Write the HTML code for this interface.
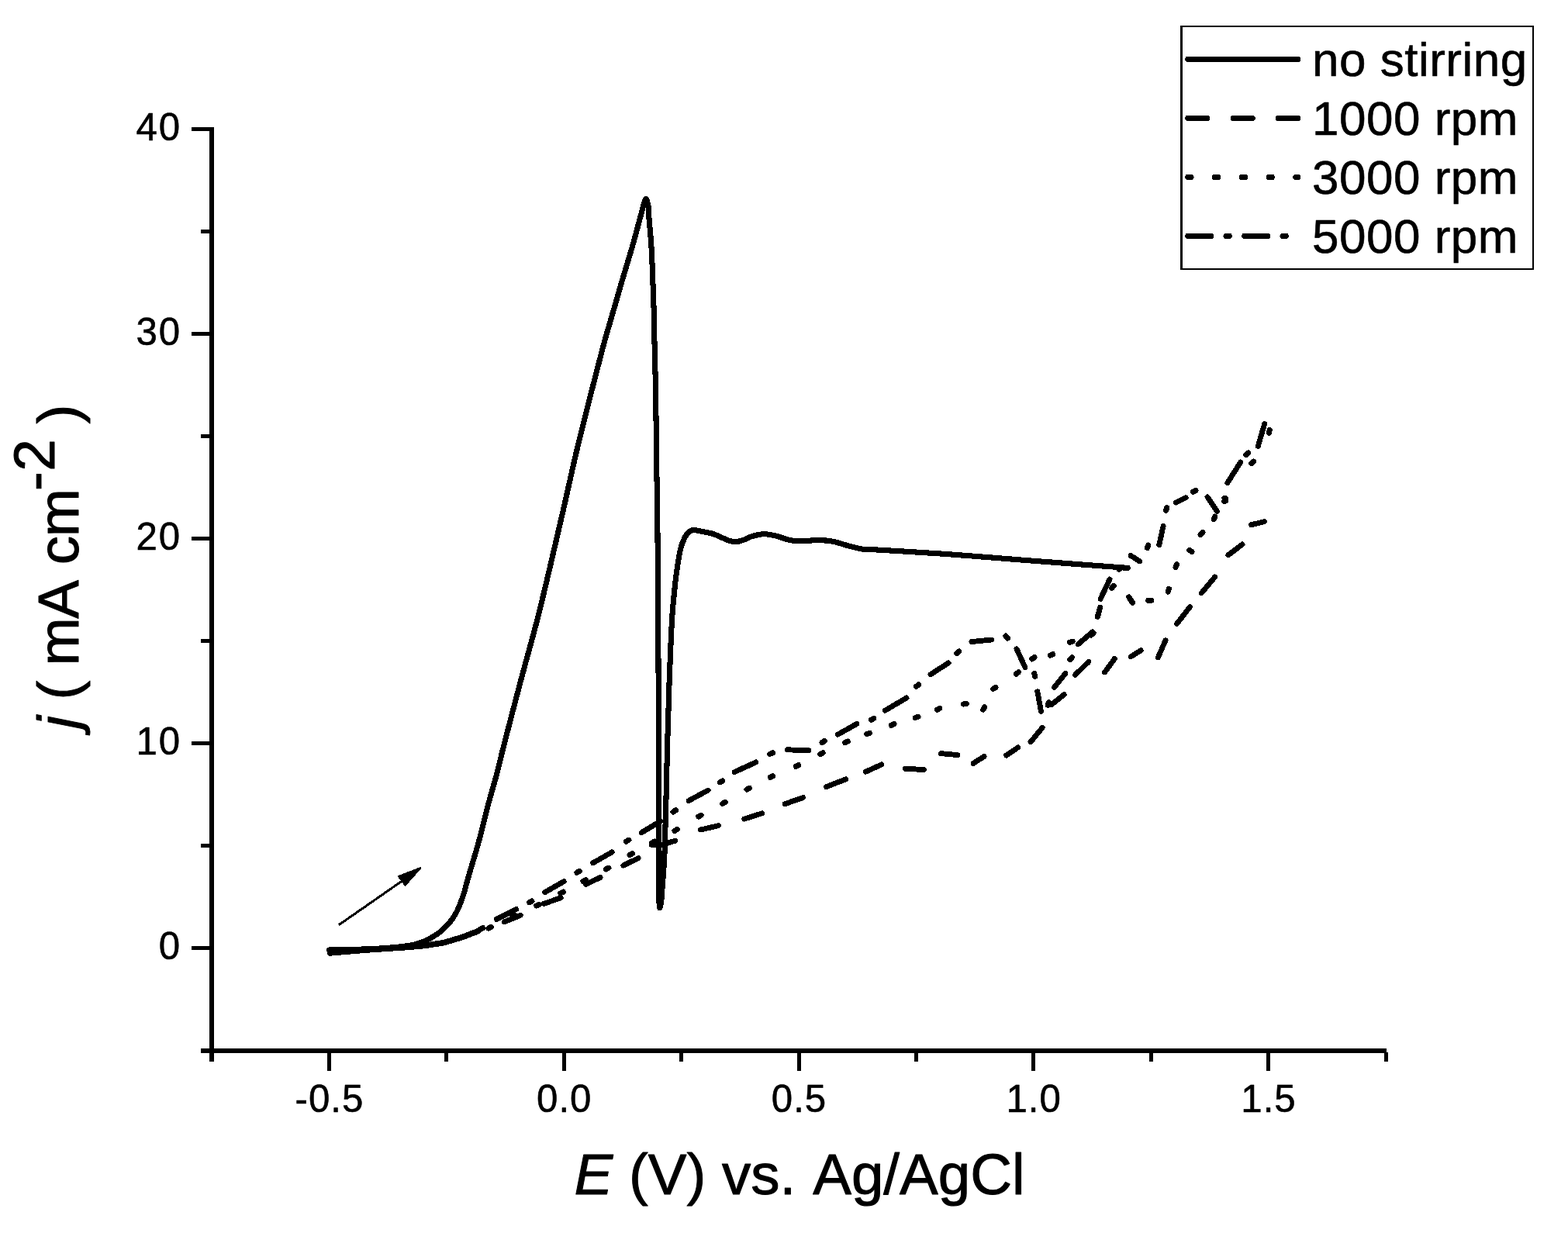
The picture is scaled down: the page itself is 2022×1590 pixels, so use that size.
<!DOCTYPE html>
<html lang="en"><head><meta charset="utf-8"><title>Cyclic voltammogram</title>
<style>
html,body{margin:0;padding:0;background:#fff;}
body{width:2022px;height:1590px;overflow:hidden;}
svg{display:block;}
text{font-family:"Liberation Sans",Arial,Helvetica,sans-serif;fill:#000;stroke:#000;stroke-linejoin:round;}
.tick{font-size:49.2px;stroke-width:0.6px;letter-spacing:1px;}
.ttl{font-size:74.5px;stroke-width:1px;}
.leg{font-size:62px;stroke-width:0.6px;letter-spacing:0.5px;}
.ax{stroke:#000;stroke-width:5.20;fill:none;stroke-linecap:butt;}
.cv{stroke:#000;stroke-width:7.1;fill:none;stroke-linecap:round;stroke-linejoin:round;}
.lg{stroke:#000;stroke-width:7.3;fill:none;stroke-linecap:round;}
.bd{stroke:#000;stroke-width:7.6;fill:none;stroke-linecap:round;stroke-linejoin:round;}
.ds{stroke:#000;stroke-width:6.9;fill:none;stroke-linecap:round;stroke-linejoin:round;}
.dt{stroke:#000;stroke-width:7.1;fill:none;stroke-linecap:round;}
</style></head><body>
<svg width="2022" height="1590" viewBox="0 0 2022 1590" shape-rendering="crispEdges">
<rect x="0" y="0" width="2022" height="1590" fill="#fff"/>
<g fill="#000" stroke="none">
<rect x="270" y="164" width="6" height="1205"/>
<rect x="259" y="1352" width="1529" height="6"/>
<rect x="247" y="164" width="24" height="5"/>
<rect x="247" y="428" width="24" height="5"/>
<rect x="247" y="692" width="24" height="5"/>
<rect x="247" y="956" width="24" height="5"/>
<rect x="247" y="1220" width="24" height="5"/>
<rect x="259" y="296" width="12" height="5"/>
<rect x="259" y="560" width="12" height="5"/>
<rect x="259" y="824" width="12" height="5"/>
<rect x="259" y="1088" width="12" height="5"/>
<rect x="422" y="1357" width="5" height="24"/>
<rect x="725" y="1357" width="5" height="24"/>
<rect x="1028" y="1357" width="5" height="24"/>
<rect x="1330" y="1357" width="5" height="24"/>
<rect x="1633" y="1357" width="5" height="24"/>
<rect x="573" y="1357" width="5" height="12"/>
<rect x="876" y="1357" width="5" height="12"/>
<rect x="1179" y="1357" width="5" height="12"/>
<rect x="1482" y="1357" width="5" height="12"/>
<rect x="1785" y="1357" width="5" height="12"/>
</g>
<g class="tick" text-anchor="end" style="letter-spacing:1.8px">
<text x="233.9" y="181.0">40</text>
<text x="233.9" y="445.0">30</text>
<text x="233.9" y="709.0">20</text>
<text x="233.9" y="973.0">10</text>
<text x="233.9" y="1237.0">0</text>
</g>
<g class="tick" text-anchor="middle">
<text x="425.0" y="1434.0">-0.5</text>
<text x="727.8" y="1434.0">0.0</text>
<text x="1030.5" y="1434.0">0.5</text>
<text x="1333.2" y="1434.0">1.0</text>
<text x="1636.0" y="1434.0">1.5</text>
</g>
<text class="ttl" x="740.5" y="1540.3"><tspan font-style="italic">E</tspan> (V) vs. <tspan dx="5.5">Ag/AgCl</tspan></text>
<text class="ttl" transform="translate(101,939.8) rotate(-90)"><tspan font-style="italic">j</tspan> ( <tspan dx="-1.5" style="letter-spacing:-1.3px">mA</tspan> <tspan dx="0.4" style="letter-spacing:-1.2px">cm</tspan><tspan dx="-1.6" dy="-31" style="letter-spacing:0.4px">-2</tspan><tspan dx="-1.2" dy="31"> )</tspan></text>
<rect x="1523.3" y="34" width="453.5" height="313" fill="#fff" stroke="#000" stroke-width="2.6"/>
<g class="lg">
<line x1="1531.8" y1="76.5" x2="1673.4" y2="76.5"/>
<line x1="1531.8" y1="152.5" x2="1673.4" y2="152.5" stroke-dasharray="24.9 33.5"/>
<line x1="1531.8" y1="228.5" x2="1673.4" y2="228.5" stroke-dasharray="4.1 30.7"/>
<line x1="1531.8" y1="304.5" x2="1673.4" y2="304.5" stroke-dasharray="29.7 19.6 4.1 19.6"/>
</g>
<g class="leg">
<text x="1692" y="97.6">no stirring</text>
<text x="1692" y="173.6">1000 rpm</text>
<text x="1692" y="249.6">3000 rpm</text>
<text x="1692" y="325.6">5000 rpm</text>
</g>
<line x1="436.8" y1="1192.8" x2="520" y2="1135" stroke="#000" stroke-width="3"/>
<polygon points="542.6,1119.0 513.8,1130.0 522.6,1141.6" fill="#000" stroke="#000" stroke-width="2" stroke-linejoin="round"/>
<g class="cv"><path d="M424.5,1225.0 C433.6,1224.8 463.4,1224.3 479.1,1223.6 C494.8,1222.9 509.2,1221.6 518.7,1220.6 C528.2,1219.6 531.1,1218.8 536.0,1217.6 C540.9,1216.4 544.6,1214.8 548.0,1213.4 C551.4,1212.0 553.2,1210.9 556.5,1209.0 C559.8,1207.1 563.6,1205.0 567.5,1201.8 C571.4,1198.5 576.4,1193.6 579.9,1189.5 C583.4,1185.4 585.9,1181.2 588.2,1177.1 C590.5,1173.0 592.1,1168.8 593.7,1164.7 C595.4,1160.6 596.8,1156.5 598.1,1152.4 C599.4,1148.3 599.8,1145.6 601.4,1140.0 C603.0,1134.4 605.6,1125.5 607.6,1118.7 C609.6,1111.9 611.6,1105.6 613.5,1099.0 C615.4,1092.4 616.5,1089.0 619.1,1079.1 C621.7,1069.2 625.5,1052.8 629.0,1039.6 C632.5,1026.4 636.5,1013.5 640.1,1000.0 C643.7,986.5 645.3,978.4 650.5,958.3 C655.7,938.1 664.2,905.5 671.2,879.1 C678.2,852.7 686.5,823.6 692.6,800.0 C698.7,776.4 702.2,761.0 707.8,737.4 C713.4,713.8 720.1,684.7 726.2,658.3 C732.3,631.9 737.9,605.5 744.2,579.1 C750.5,552.7 758.5,521.5 764.0,500.0 C769.5,478.5 773.5,462.7 776.9,450.0 C780.3,437.3 781.6,433.0 784.2,424.0 C786.8,415.0 789.7,405.3 792.4,396.0 C795.1,386.7 797.6,377.6 800.3,368.4 C803.0,359.2 805.9,349.9 808.6,340.7 C811.4,331.5 814.2,322.2 816.8,313.0 C819.4,303.8 822.2,293.1 824.3,285.4 C826.4,277.7 828.0,271.3 829.2,267.0 C830.4,262.7 830.7,261.2 831.4,259.5 C832.1,257.8 832.6,255.5 833.4,256.6 C834.2,257.7 835.4,262.2 836.0,266.0 C836.6,269.8 836.1,270.3 836.8,279.1 C837.5,287.9 839.2,305.5 840.0,318.7 C840.8,331.9 841.2,345.1 841.7,358.3 C842.2,371.5 842.7,384.6 843.1,397.8 C843.5,411.0 843.5,420.4 843.9,437.4 C844.3,454.4 845.0,473.1 845.5,500.0 C846.0,526.9 846.3,569.2 846.7,598.9 C847.1,628.6 847.6,644.5 847.9,678.0 C848.2,711.5 848.5,759.9 848.7,800.0 C848.9,840.1 849.1,868.7 849.3,918.7 C849.5,968.7 849.6,1059.8 849.7,1100.0 C849.8,1140.2 849.7,1148.2 849.9,1160.0 C850.1,1171.8 850.7,1168.9 850.9,1170.7 M850.9,1170.7 C851.2,1169.4 852.1,1166.6 852.6,1163.0 C853.1,1159.4 853.2,1156.2 853.7,1149.3 C854.2,1142.4 855.2,1129.7 855.8,1121.5 C856.3,1113.3 856.5,1114.0 857.0,1100.0 C857.5,1086.0 858.2,1061.0 858.8,1037.4 C859.4,1013.8 860.0,984.7 860.7,958.3 C861.4,931.9 862.1,905.5 863.1,879.1 C864.1,852.7 865.3,820.3 866.5,800.0 C867.7,779.7 869.2,767.5 870.2,757.2 C871.2,746.9 871.6,744.3 872.5,738.0 C873.4,731.7 874.5,724.2 875.3,719.5 C876.1,714.8 876.4,713.0 877.2,709.7 C878.0,706.4 878.9,703.0 880.2,699.7 C881.5,696.5 883.2,692.6 884.8,690.2 C886.3,687.8 887.9,686.4 889.5,685.3 C891.1,684.2 892.1,683.5 894.6,683.5 C897.1,683.5 901.6,684.7 904.6,685.2 C907.6,685.8 910.1,686.3 912.6,686.8 C915.1,687.3 916.6,687.4 919.5,688.4 C922.4,689.4 926.7,691.5 930.0,692.9 C933.3,694.3 936.3,695.9 939.4,696.9 C942.5,697.9 945.7,698.6 948.8,698.6 C951.9,698.6 954.5,697.8 958.0,696.6 C961.5,695.5 965.2,693.0 969.6,691.7 C974.0,690.4 979.5,688.9 984.4,688.7 C989.3,688.5 994.2,689.6 999.2,690.7 C1004.2,691.8 1010.0,694.2 1014.1,695.3 C1018.2,696.4 1019.9,697.0 1024.0,697.4 C1028.1,697.8 1033.4,697.5 1038.8,697.4 C1044.2,697.3 1050.8,696.5 1056.6,696.6 C1062.4,696.7 1068.1,697.2 1073.4,698.1 C1078.7,699.0 1083.3,700.9 1088.3,702.2 C1093.2,703.6 1099.0,705.2 1103.1,706.2 C1107.2,707.2 1109.3,707.9 1113.0,708.3 C1116.7,708.7 1115.5,708.2 1125.0,708.7 C1134.5,709.2 1154.3,710.3 1170.0,711.3 C1185.7,712.2 1202.2,713.2 1218.9,714.4 C1235.6,715.6 1253.2,717.0 1270.0,718.3 C1286.8,719.6 1305.0,721.1 1320.0,722.3 C1335.0,723.5 1346.8,724.3 1360.0,725.3 C1373.2,726.3 1383.2,727.1 1398.9,728.3 C1414.6,729.5 1445.1,731.7 1454.3,732.4"/></g>
<g class="bd"><path d="M425.8,1228.9 L474.0,1224.9 L523.6,1221.6 L548.4,1219.4 L573.0,1215.5 L597.8,1208.0 L616.4,1200.7"/></g>
<g class="ds"><path d="M650.3,1188.8 L671.2,1180.3 M701.2,1165.4 L723.1,1157.8 M755.5,1140.3 L774.1,1131.5 M803.8,1116.1 L823.0,1106.7 M840.3,1089.3 L854.8,1089.1 L870.7,1084.2 M903.4,1070.0 L926.4,1064.7 M959.7,1056.1 L982.8,1048.8 M1012.3,1036.7 L1035.5,1028.5 M1065.5,1014.7 L1090.7,1004.8 M1116.2,995.3 L1137.0,985.8 M1167.4,991.3 L1191.4,992.5 M1213.6,971.7 L1234.6,973.5 M1255.1,984.4 L1269.1,975.4 M1297.7,974.1 L1312.6,963.9 M1329.0,956.8 L1344.2,938.3 M1355.8,908.7 L1372.2,895.7 M1386.3,870.5 L1403.9,853.3 M1424.6,866.9 L1437.3,849.5 M1458.3,846.8 L1471.1,838.7 M1493.3,847.9 L1503.0,825.8 M1517.6,804.4 L1534.5,782.6 M1549.3,764.8 L1566.6,744.1 M1583.9,715.8 L1602.0,702.0 M1613.6,676.7 L1630.4,672.7"/></g>
<g class="ds"><path d="M640.2,1185.4 L665.7,1172.5 M702.7,1150.6 L727.1,1136.7 M764.7,1112.8 L789.1,1098.9 M827.2,1073.7 L851.8,1058.9 M888.2,1032.5 L913.1,1019.1 M947.1,995.6 L974.9,982.9 M1015.6,966.8 L1042.8,967.8 M1080.2,947.3 L1104.9,933.4 M1141.2,916.3 L1169.0,900.0 M1200.0,869.7 L1223.0,854.9 M1252.9,827.6 L1278.5,825.0 M1310.9,836.7 L1321.9,860.5 M1337.8,891.8 L1342.5,917.3 M1359.5,886.4 L1373.9,868.4 M1390.1,830.9 L1408.8,814.9 M1419.1,772.4 L1431.0,747.0 M1458.2,716.5 L1469.8,723.9 M1494.8,702.6 L1500.1,678.4 M1516.6,648.0 L1529.1,641.8 M1557.0,640.9 L1569.5,659.5 M1582.9,622.5 L1599.7,596.1 M1622.3,575.5 L1630.7,546.5"/></g>
<g class="dt"><path d="M619.3,1198.3 L622.8,1196.7 M682.6,1163.7 L685.9,1162.0 M743.9,1125.3 L747.3,1123.5 M807.5,1085.1 L810.8,1083.2 M868.0,1047.0 L871.3,1044.9 M928.4,1008.8 L931.8,1007.0 M992.8,972.3 L996.3,970.9 M1060.1,957.4 L1063.4,955.5 M1123.5,928.4 L1126.7,926.4 M1181.6,885.2 L1184.6,882.8 M1233.7,842.5 L1236.6,840.0 M1296.9,820.1 L1299.3,823.0 M1333.9,868.6 L1334.6,872.3 M1351.2,909.4 L1352.5,905.8 M1379.8,850.7 L1382.3,847.8 M1415.4,795.2 L1418.6,783.3 M1442.9,734.0 L1446.1,732.0 M1479.4,706.5 L1480.8,703.0 M1503.7,658.2 L1504.8,654.6 M1538.5,634.3 L1541.9,632.7 M1578.9,642.4 L1580.8,645.6 M1606.9,586.4 L1609.8,583.9"/></g>
<g class="dt"><path d="M629.9,1197.1 L633.3,1195.5 M660.2,1182.2 L663.7,1180.6 M691.8,1168.0 L695.3,1166.4 M722.8,1151.9 L726.2,1150.2 M752.0,1136.5 L755.3,1134.7 M781.5,1121.0 L784.8,1119.2 M812.1,1102.5 L815.4,1100.6 M840.8,1086.9 L844.2,1085.1 M869.9,1071.4 L873.2,1069.5 M900.8,1053.1 L904.1,1051.2 M931.8,1036.3 L935.1,1034.5 M963.0,1018.0 L966.4,1016.2 M993.3,1002.4 L996.8,1000.8 M1026.3,988.4 L1029.7,986.6 M1057.8,972.4 L1061.2,970.8 M1089.7,957.6 L1093.2,956.1 M1117.8,946.7 L1121.3,945.2 M1149.4,935.4 L1152.9,933.7 M1180.3,925.5 L1183.9,924.2 M1208.3,915.2 L1211.7,913.5 M1242.6,908.0 L1246.3,907.5 M1267.7,915.1 L1269.6,911.8 M1280.6,888.5 L1283.9,886.5 M1310.5,869.3 L1313.4,866.7 M1330.9,849.9 L1333.9,847.6 M1354.2,845.2 L1357.7,843.6 M1379.5,828.2 L1383.2,827.2 M1407.1,818.9 L1410.0,816.4 M1433.7,758.4 L1436.2,755.5 M1457.0,771.6 L1458.8,774.9 M1480.8,774.3 L1484.6,774.3 M1506.3,763.1 L1507.4,759.4 M1516.0,731.4 L1517.6,727.9 M1533.8,709.4 L1536.9,711.5 M1548.1,689.3 L1550.9,686.7 M1565.2,669.5 L1566.8,666.1 M1578.9,646.3 L1580.8,643.0 M1613.7,597.5 L1616.6,595.1 M1636.5,558.3 L1637.2,554.5 M1455.8,770.0 L1460.6,777.3"/></g>
</svg>
</body></html>
